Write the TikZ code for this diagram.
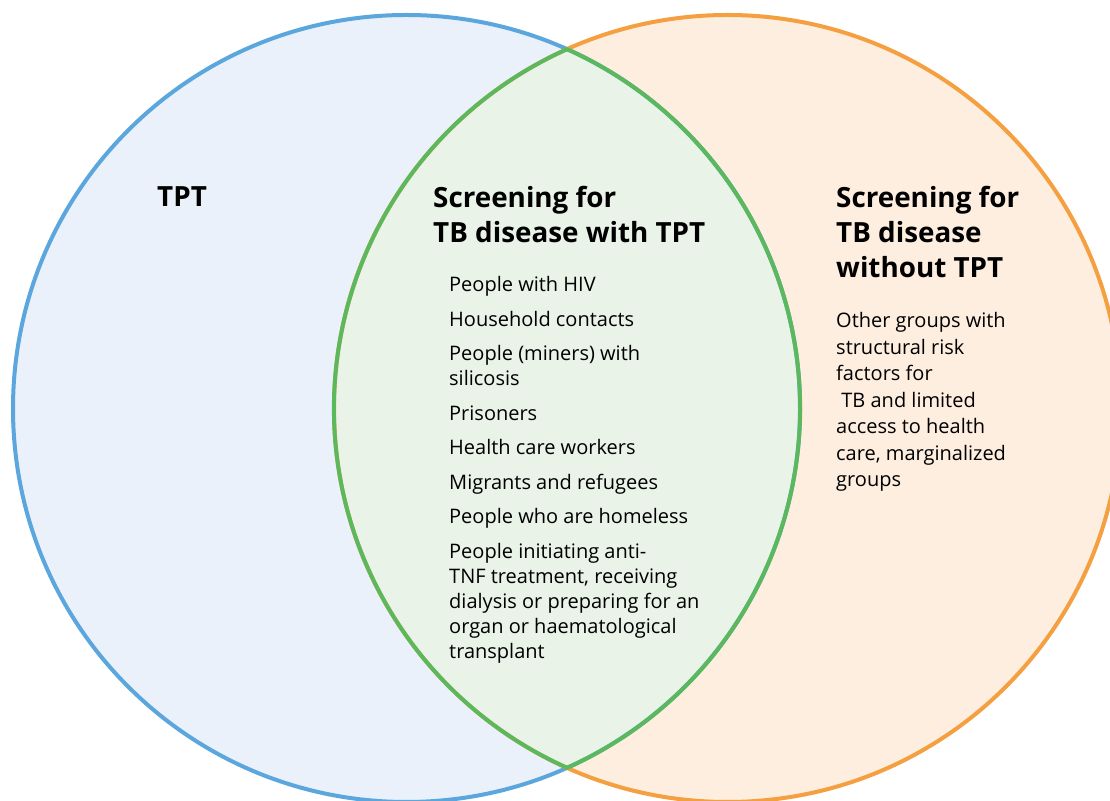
\documentclass[tikz,border=0pt]{standalone}
\usepackage{fontspec}
\setmainfont{Open Sans}
\usetikzlibrary{calc}

\definecolor{tptline}{RGB}{91,167,221}
\definecolor{tptfill}{RGB}{234,241,250}
\definecolor{scrline}{RGB}{244,160,64}
\definecolor{scrfill}{RGB}{253,238,224}
\definecolor{bothline}{RGB}{92,184,92}
\definecolor{bothfill}{RGB}{233,243,232}

\begin{document}
\begin{tikzpicture}[x=1pt, y=1pt,
	heading/.style={font=\fontsize{27.8}{35}\selectfont\bfseries, align=left, inner sep=0pt, anchor=north west},
	body/.style={font=\fontsize{20}{25}\selectfont, align=left, inner sep=0pt, anchor=north west}]
	\useasboundingbox (0,0) rectangle (1110,800);
	\clip (0,0) rectangle (1110,800);

	\def\r{393.5};
	\def\ang{65.93};
	\coordinate (tpt) at (406.5,391.5);
	\coordinate (scr) at (727.5,391.5);

	% circles and the overlap
	\fill[tptfill] (tpt) circle[radius=\r];
	\fill[scrfill] (scr) circle[radius=\r];
	\begin{scope}
		\clip (tpt) circle[radius=\r];
		\fill[bothfill] (scr) circle[radius=\r];
	\end{scope}
	\draw[tptline, line width=4pt] (tpt) circle[radius=\r];
	\draw[scrline, line width=4pt] (scr) circle[radius=\r];
	\draw[bothline, line width=4pt] ($(scr)+(180-\ang:\r)$) arc[start angle=180-\ang, end angle=180+\ang, radius=\r]
		arc[start angle=-\ang, end angle=\ang, radius=\r] -- cycle;

	% texts
	\node[heading] (tpttitle) at (157,614) {TPT};
	\node[heading] (bothtitle) at (433,614) {Screening for\\TB disease with TPT};
	\node[body] (bothlist) at (449,523.5) {People with HIV\\[9.5pt]
		Household contacts\\[9.5pt]
		People (miners) with\\silicosis\\[9.5pt]
		Prisoners\\[9.5pt]
		Health care workers\\[9.5pt]
		Migrants and refugees\\[9.5pt]
		People who are homeless\\[9.5pt]
		People initiating anti-\\TNF treatment, receiving\\dialysis or preparing for an\\organ or haematological\\transplant};
	\node[heading] (scrtitle) at (836,614) {Screening for\\TB disease\\without TPT};
	\node[body, font=\fontsize{20}{26.5}\selectfont] (scrlist) at (836,487.5) {Other groups with\\structural risk\\factors for\\\ TB and limited\\access to health\\care, marginalized\\groups};
\end{tikzpicture}
\end{document}
